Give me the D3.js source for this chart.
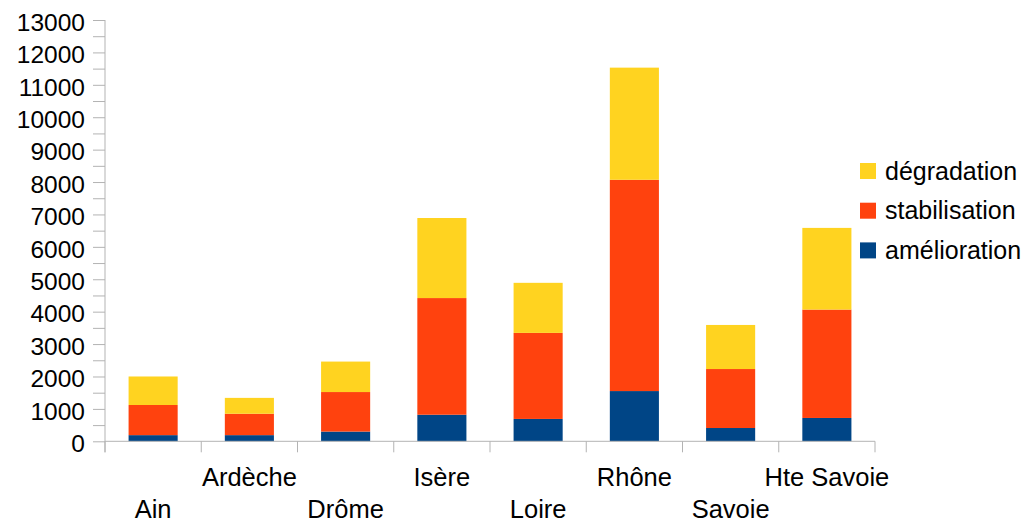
<!DOCTYPE html>
<html>
<head>
<meta charset="utf-8">
<script src="https://cdn.jsdelivr.net/npm/d3@7"></script>
<style>
  body { margin: 0; background: #fff; }
  text { font-family: "Liberation Sans", Arial, sans-serif; fill: #000; }
</style>
</head>
<body>
<script>
var categories = ["Ain", "Ardèche", "Drôme", "Isère", "Loire", "Rhône", "Savoie", "Hte Savoie"];
var amelioration = [190, 190, 300, 820, 690, 1550, 410, 720];
var stabilisation = [930, 660, 1220, 3600, 2655, 6520, 1820, 3345];
var degradation = [880, 490, 940, 2470, 1545, 3460, 1360, 2520];
var seriesNames = ["amélioration", "stabilisation", "dégradation"];
var seriesColors = ["#004586", "#ff420e", "#ffd320"];
var yTicks = d3.range(0, 13001, 500);

var width = 1032, height = 521;
var plotLeft = 105, plotRight = 875, plotTop = 20, plotBottom = 441.3;

var svg = d3.select("body").append("svg").attr("width", width).attr("height", height);

var x = d3.scaleBand().domain(categories).range([plotLeft, plotRight]).paddingInner(0.49).paddingOuter(0.245);
var y = d3.scaleLinear().domain([0, 13000]).range([plotBottom, plotTop]);

var table = categories.map(function (c, i) {
  return {cat: c, "amélioration": amelioration[i], "stabilisation": stabilisation[i], "dégradation": degradation[i]};
});
var stacked = d3.stack().keys(seriesNames)(table);

// bars
svg.append("g").selectAll("g").data(stacked).enter().append("g")
  .attr("fill", function (d, i) { return seriesColors[i]; })
  .selectAll("rect").data(function (d) { return d; }).enter().append("rect")
  .attr("x", function (d) { return x(d.data.cat); })
  .attr("width", x.bandwidth())
  .attr("y", function (d) { return y(d[1]); })
  .attr("height", function (d) { return y(d[0]) - y(d[1]); });

// y axis
var yAxis = svg.append("g").attr("transform", "translate(" + plotLeft + ",0)")
  .call(d3.axisLeft(y).tickValues(yTicks).tickSize(12).tickPadding(8)
    .tickFormat(function (d) { return d % 1000 === 0 ? d : ""; }));
yAxis.select(".domain").remove();
yAxis.selectAll("line").attr("stroke", "#b3b3b3");
yAxis.selectAll("text").attr("font-size", 24.5).attr("dy", "0.42em").attr("fill", "#000")
  .style("font-family", "Liberation Sans, Arial, sans-serif");
svg.append("line").attr("x1", plotLeft).attr("x2", plotLeft).attr("y1", y(13000)).attr("y2", plotBottom + 11)
  .attr("stroke", "#b3b3b3");

// x axis
var step = x.step();
svg.append("line").attr("x1", plotLeft).attr("x2", plotRight).attr("y1", plotBottom).attr("y2", plotBottom)
  .attr("stroke", "#b3b3b3");
svg.append("g").selectAll("line").data(d3.range(categories.length + 1)).enter().append("line")
  .attr("x1", function (i) { return plotLeft + i * step; })
  .attr("x2", function (i) { return plotLeft + i * step; })
  .attr("y1", plotBottom).attr("y2", plotBottom + 11)
  .attr("stroke", "#b3b3b3");

svg.append("g").selectAll("text").data(categories).enter().append("text")
  .attr("x", function (d) { return x(d) + x.bandwidth() / 2; })
  .attr("y", function (d, i) { return i % 2 === 0 ? 518 : 486; })
  .attr("text-anchor", "middle")
  .attr("font-size", 25.5)
  .text(function (d) { return d; });

// legend
var legendOrder = [2, 1, 0];
var legend = svg.append("g").selectAll("g").data(legendOrder).enter().append("g")
  .attr("transform", function (d, i) { return "translate(860," + (163 + i * 39.7) + ")"; });
legend.append("rect").attr("width", 16).attr("height", 16)
  .attr("fill", function (d) { return seriesColors[d]; });
legend.append("text").attr("x", 25).attr("y", 16.5).attr("font-size", 25)
  .text(function (d) { return seriesNames[d]; });
</script>
</body>
</html>
